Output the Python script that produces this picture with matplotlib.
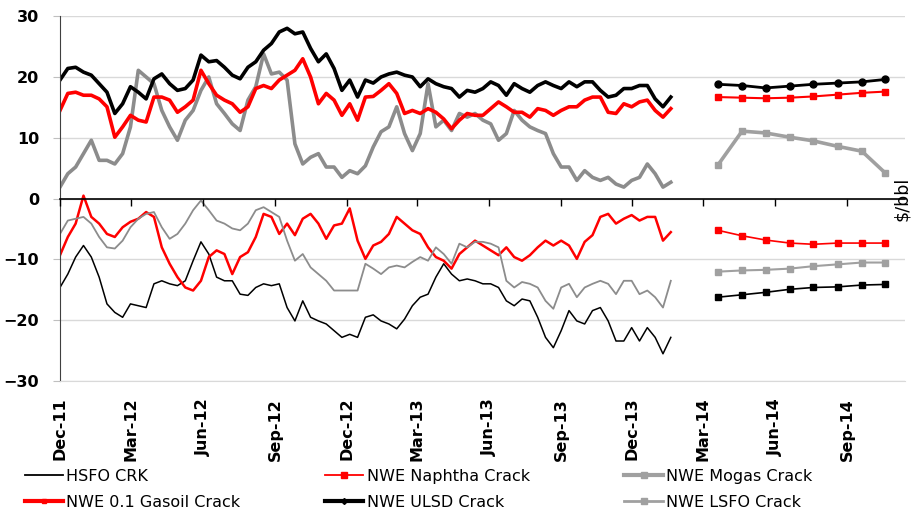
import pandas as pd
import matplotlib
matplotlib.use('Agg')
import matplotlib.pyplot as plt
import matplotlib.dates as mdates
from matplotlib.lines import Line2D

plt.rcParams['font.family'] = ['DejaVu Sans']

# daily history sampled every 10 days, then forward curve points
hist_dates = pd.date_range('2011-12-01', periods=79, freq='10D')
fwd_dates = [pd.Timestamp(2014, m, 20) for m in range(3, 11)]

ulsd = [19.5, 21.4, 21.6, 20.8, 20.3, 18.9, 17.5, 14.0, 15.6, 18.4,
        17.5, 16.4, 19.7, 20.5, 18.9, 17.8, 18.1, 19.5, 23.6, 22.5,
        22.7, 21.6, 20.3, 19.7, 21.6, 22.5, 24.4, 25.5, 27.4, 28.0,
        27.1, 27.4, 24.7, 22.5, 23.8, 21.4, 17.8, 19.5, 16.7, 19.5,
        19.0, 20.0, 20.5, 20.8, 20.3, 20.0, 18.4, 19.7, 18.9, 18.4,
        18.1, 16.7, 17.8, 17.5, 18.1, 19.2, 18.6, 17.0, 18.9, 18.1,
        17.5, 18.6, 19.2, 18.6, 18.1, 19.2, 18.4, 19.2, 19.2, 17.8,
        16.7, 17.0, 18.1, 18.1, 18.6, 18.6, 16.4, 15.1, 16.7]
gasoil = [14.5, 17.3, 17.5, 17.0, 17.0, 16.4, 15.1, 10.1, 11.8, 13.7,
          12.9, 12.6, 16.7, 16.7, 16.2, 14.2, 15.1, 16.2, 21.1, 18.9,
          17.0, 16.2, 15.6, 14.2, 15.1, 18.1, 18.6, 18.1, 19.5, 20.3,
          21.1, 23.0, 20.0, 15.6, 17.3, 16.2, 13.7, 15.6, 12.9, 16.7,
          16.8, 17.8, 18.9, 17.3, 14.0, 14.5, 14.0, 14.8, 14.2, 13.1,
          11.5, 12.9, 14.0, 13.7, 13.7, 14.8, 15.9, 15.1, 14.2, 14.2,
          13.4, 14.8, 14.5, 13.7, 14.5, 15.1, 15.1, 16.2, 16.7, 16.7,
          14.2, 14.0, 15.6, 15.1, 15.9, 16.2, 14.5, 13.4, 14.8]
mogas = [1.9, 4.1, 5.2, 7.4, 9.6, 6.3, 6.3, 5.7, 7.4, 11.8,
         21.1, 20.0, 18.9, 14.5, 11.8, 9.6, 12.9, 14.5, 17.8, 20.0,
         15.6, 14.0, 12.3, 11.2, 16.2, 18.4, 23.8, 20.5, 20.8, 19.5,
         9.0, 5.7, 6.8, 7.4, 5.2, 5.2, 3.5, 4.6, 4.1, 5.4,
         8.5, 11.0, 11.8, 15.1, 10.7, 7.9, 10.7, 18.9, 11.8, 12.9,
         11.2, 14.0, 13.4, 14.0, 12.9, 12.3, 9.6, 10.7, 14.5, 12.9,
         11.8, 11.2, 10.7, 7.4, 5.2, 5.2, 3.0, 4.6, 3.5, 3.0,
         3.5, 2.4, 1.9, 3.0, 3.5, 5.7, 4.1, 1.9, 2.7]
naphtha = [-9.3, -6.3, -4.1, 0.5, -3.0, -4.1, -5.8, -6.3, -4.7, -3.8,
           -3.3, -2.2, -3.0, -8.0, -10.7, -12.9, -14.6, -15.1, -13.5, -9.6,
           -8.5, -9.1, -12.4, -9.6, -8.8, -6.3, -2.5, -3.0, -5.8, -4.1,
           -6.0, -3.3, -2.5, -4.1, -6.6, -4.4, -4.1, -1.6, -6.9, -9.9,
           -7.7, -7.1, -5.8, -3.0, -4.1, -5.2, -5.8, -8.0, -9.6, -10.2,
           -11.5, -9.1, -8.0, -6.9, -7.7, -8.5, -9.3, -8.0, -9.6, -10.2,
           -9.3, -8.0, -6.9, -7.7, -6.9, -7.7, -9.9, -7.1, -6.0, -3.0,
           -2.5, -4.1, -3.3, -2.7, -3.6, -3.0, -3.0, -6.9, -5.5]
lsfo = [-5.8, -3.6, -3.3, -3.0, -4.1, -6.3, -8.0, -8.2, -6.9, -4.7,
        -3.3, -2.5, -2.2, -4.7, -6.6, -5.8, -4.1, -1.9, -0.3, -1.9,
        -3.6, -4.1, -4.9, -5.2, -4.1, -1.9, -1.4, -2.2, -3.0, -6.9,
        -10.2, -9.1, -11.3, -12.4, -13.5, -15.1, -15.1, -15.1, -15.1, -10.7,
        -11.5, -12.4, -11.3, -11.0, -11.3, -10.4, -9.6, -10.2, -8.0, -9.1,
        -10.7, -7.4, -8.0, -7.1, -7.1, -7.4, -8.0, -13.5, -14.6, -13.7,
        -14.0, -14.6, -16.8, -18.1, -14.6, -14.0, -16.2, -14.6, -14.0, -13.5,
        -14.0, -15.7, -13.5, -13.5, -15.7, -15.1, -16.2, -17.9, -13.5]
hsfo = [-14.6, -12.4, -9.6, -7.7, -9.6, -12.9, -17.3, -18.7, -19.5, -17.3,
        -17.6, -17.9, -14.0, -13.5, -14.0, -14.3, -13.5, -10.2, -7.1, -9.1,
        -12.9, -13.5, -13.5, -15.7, -15.9, -14.6, -14.0, -14.3, -14.0, -17.9,
        -20.1, -16.8, -19.5, -20.1, -20.6, -21.7, -22.8, -22.3, -22.8, -19.5,
        -19.1, -20.1, -20.6, -21.4, -19.8, -17.6, -16.2, -15.7, -12.9, -10.7,
        -12.4, -13.5, -13.2, -13.5, -14.0, -14.0, -14.6, -16.8, -17.6, -16.5,
        -16.8, -19.5, -22.8, -24.5, -21.7, -18.4, -20.1, -20.6, -18.4, -17.9,
        -20.1, -23.4, -23.4, -21.2, -23.4, -21.2, -22.8, -25.5, -22.8]

ulsd_fwd = [18.8, 18.6, 18.2, 18.5, 18.8, 19.0, 19.2, 19.6]
gasoil_fwd = [16.7, 16.6, 16.5, 16.6, 16.8, 17.1, 17.4, 17.6]
mogas_fwd = [5.5, 11.1, 10.8, 10.1, 9.5, 8.6, 7.8, 4.2]
naphtha_fwd = [-5.2, -6.1, -6.8, -7.3, -7.5, -7.3, -7.3, -7.3]
lsfo_fwd = [-12.0, -11.8, -11.7, -11.5, -11.1, -10.8, -10.5, -10.5]
hsfo_fwd = [-16.2, -15.8, -15.4, -14.9, -14.6, -14.5, -14.2, -14.1]

tick_dates = pd.date_range('2011-12-01', '2014-09-01', freq='3MS')
x_min, x_max = pd.Timestamp('2011-12-01'), pd.Timestamp('2014-11-14')

RED = '#ff0000'
GRAY = '#8c8c8c'
LGRAY = '#a0a0a0'

fig = plt.figure(figsize=(9.13, 5.13), dpi=100)
ax = fig.add_axes([0.0657, 0.257, 0.9255, 0.7115])

# history
ax.plot(hist_dates, hsfo, color='black', lw=1.1)
ax.plot(hist_dates, naphtha, color=RED, lw=1.8)
ax.plot(hist_dates, mogas, color=GRAY, lw=2.6)
ax.plot(hist_dates, gasoil, color=RED, lw=2.6)
ax.plot(hist_dates, ulsd, color='black', lw=2.6)
ax.plot(hist_dates, lsfo, color=GRAY, lw=1.3)

# forward curves
ax.plot(fwd_dates, hsfo_fwd, color='black', lw=1.2, marker='s', ms=5)
ax.plot(fwd_dates, naphtha_fwd, color=RED, lw=1.2, marker='s', ms=5)
ax.plot(fwd_dates, mogas_fwd, color=LGRAY, lw=2.6, marker='s', ms=5)
ax.plot(fwd_dates, gasoil_fwd, color=RED, lw=1.5, marker='s', ms=5)
ax.plot(fwd_dates, ulsd_fwd, color='black', lw=2.0, marker='o', ms=5)
ax.plot(fwd_dates, lsfo_fwd, color=LGRAY, lw=1.5, marker='s', ms=5)

ax.set_ylim(-30, 30)
ax.set_yticks(range(-30, 31, 10))
ax.set_xlim(x_min, x_max)
ax.set_xticks(tick_dates)
ax.xaxis.set_major_formatter(mdates.DateFormatter('%b-%y'))
ax.grid(axis='y', color='#d9d9d9', lw=1)
ax.set_axisbelow(True)

for s in ['top', 'right']:
    ax.spines[s].set_visible(False)
ax.spines['bottom'].set_color('#d9d9d9')
ax.spines['left'].set_color('#404040')

ax.tick_params(axis='x', length=0, pad=12, labelsize=11.5, rotation=90)
ax.tick_params(axis='y', length=5, pad=10, labelsize=11.5, color='#bfbfbf')
for lbl in ax.get_xticklabels() + ax.get_yticklabels():
    lbl.set_fontweight('bold')

# zero line with its own tick marks (Excel-style axis crossing at 0)
ax2 = ax.twiny()
ax2.set_xlim(x_min, x_max)
ax2.set_xticks(tick_dates)
ax2.xaxis.set_ticks_position('bottom')
ax2.spines['bottom'].set_position(('axes', 0.5))
ax2.spines['bottom'].set_color('black')
ax2.spines['bottom'].set_linewidth(1.2)
for s in ['top', 'right', 'left']:
    ax2.spines[s].set_visible(False)
ax2.tick_params(axis='x', direction='out', length=5, width=1,
                labelbottom=False, labeltop=False)
ax2.patch.set_visible(False)

ax.text(0.997, 0.5, '$/bbl', transform=ax.transAxes, rotation=90,
        ha='center', va='center', fontsize=12.5)

entries = [
    (Line2D([], [], color='black', lw=1.3), 'HSFO CRK', 0.027, 0.072),
    (Line2D([], [], color=RED, lw=1.3, marker='s', ms=4), 'NWE Naphtha Crack', 0.356, 0.072),
    (Line2D([], [], color=LGRAY, lw=3, marker='s', ms=4), 'NWE Mogas Crack', 0.684, 0.072),
    (Line2D([], [], color=RED, lw=3, marker='s', ms=3), 'NWE 0.1 Gasoil Crack', 0.027, 0.021),
    (Line2D([], [], color='black', lw=3, marker='D', ms=3), 'NWE ULSD Crack', 0.356, 0.021),
    (Line2D([], [], color=LGRAY, lw=2, marker='s', ms=4), 'NWE LSFO Crack', 0.684, 0.021),
]
for h, lab, x, y in entries:
    fig.legend([h], [lab], loc='center left', bbox_to_anchor=(x, y),
               frameon=False, fontsize=11.5, handlelength=2.4,
               handletextpad=0.2, borderpad=0, borderaxespad=0)

fig.savefig('out.png', dpi=100)
